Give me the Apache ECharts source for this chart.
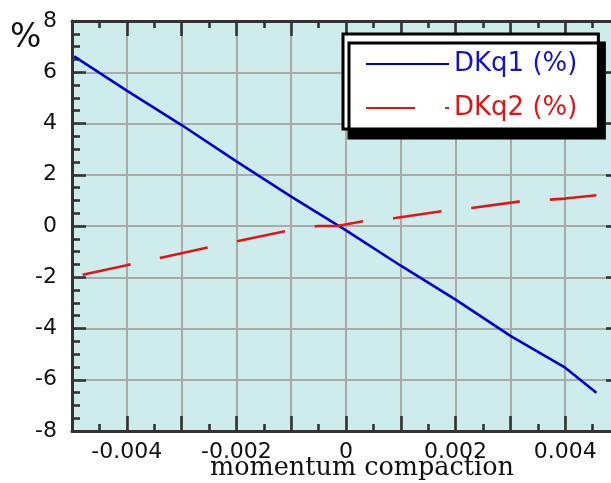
<!DOCTYPE html>
<html><head><meta charset="utf-8">
<script src="https://cdn.jsdelivr.net/npm/echarts@6/dist/echarts.min.js"></script>
<style>html,body{margin:0;padding:0;background:#fff}#c{width:611px;height:483px}</style>
</head><body><div id="c"></div>
<script>
// ---- data ----
const seriesNames = ['DKq1 (%)', 'DKq2 (%)'];
const momentumQ1 = [-0.00496, -0.004, -0.003, -0.002, -0.001, 0, 0.001, 0.002, 0.003, 0.004, 0.00457];
const dkq1 =       [6.62, 5.28, 3.94, 2.52, 1.15, -0.17, -1.55, -2.87, -4.29, -5.53, -6.51];
const momentumQ2 = [-0.00496, -0.004, -0.003, -0.002, -0.001, -0.0005, -0.00016, 0.0004, 0.0009, 0.00176, 0.00229, 0.00315, 0.004, 0.00457];
const dkq2 =       [-1.97, -1.53, -1.06, -0.6, -0.15, 0, 0, 0.22, 0.31, 0.58, 0.70, 0.95, 1.07, 1.2];
const xTickLabels = ['-0.004', '-0.002', '0', '0.002', '0.004'];
const yTickLabels = ['-8', '-6', '-4', '-2', '0', '2', '4', '6', '8'];
const xTitle = 'momentum compaction';
const yUnit = '%';

const BLUE = '#0000d2', RED = '#e41414';
const AX = '#333333';
const chart = echarts.init(document.getElementById('c'), null, {renderer: 'canvas'});

function pick(labels, v) {
  const r = Math.round(v * 1e4) / 1e4;
  for (const l of labels) { if (Number(l) === r) return l; }
  return '';
}
const tickCommon = {show: true, inside: true, lineStyle: {color: AX, width: 2.6}};
function xAx(pos, main) {
  return {
    type: 'value', position: pos, min: -0.005, max: 0.005, interval: 0.001,
    axisLine: {show: true, onZero: false, lineStyle: {color: AX, width: 3}},
    axisTick: Object.assign({}, tickCommon, {length: 15}),
    minorTick: {show: true, splitNumber: 2, length: 7, lineStyle: {color: AX, width: 2.6}},
    splitLine: {show: main, lineStyle: {color: '#aaaaaa', width: 2}},
    axisLabel: {show: main, margin: 10, color: '#111', fontFamily: 'DejaVu Sans', fontSize: 22,
      formatter: v => pick(xTickLabels, v)}
  };
}
function yAx(pos, main) {
  return {
    type: 'value', position: pos, min: -8, max: 8, interval: 2,
    axisLine: {show: true, onZero: false, lineStyle: {color: AX, width: 3}},
    axisTick: Object.assign({}, tickCommon, {length: 14}),
    minorTick: {show: true, splitNumber: 4, length: 8, lineStyle: {color: AX, width: 2.6}},
    splitLine: {show: main, lineStyle: {color: '#aaaaaa', width: 2}},
    axisLabel: {show: main, margin: 15, color: '#111', fontFamily: 'DejaVu Sans', fontSize: 22,
      padding: [0, 0, 6, 0], formatter: v => pick(yTickLabels, v)}
  };
}

chart.setOption({
  animation: false,
  backgroundColor: '#ffffff',
  grid: {left: 72, top: 21, width: 548, height: 410, show: true, backgroundColor: '#ceeceb',
    borderWidth: 0, outerBoundsMode: 'none', containLabel: false},
  xAxis: [xAx('bottom', true), xAx('top', false)],
  yAxis: [yAx('left', true), yAx('right', false)],
  legend: {
    orient: 'vertical', left: 343, top: 34, padding: [17, 21, 8, 22],
    backgroundColor: '#ffffff', borderColor: '#000', borderWidth: 3, borderRadius: 0,
    shadowColor: '#000', shadowOffsetX: 6, shadowOffsetY: 9, shadowBlur: 0,
    itemWidth: 83, itemHeight: 14, itemGap: 18, selectedMode: false,
    textStyle: {fontFamily: 'DejaVu Sans', fontSize: 26},
    lineStyle: {dashOffset: 0},
    itemStyle: {color: 'rgba(0,0,0,0)', borderColor: 'rgba(0,0,0,0)', borderWidth: 0, opacity: 0},
    data: [
      {name: seriesNames[0], textStyle: {color: '#1414cc'}},
      {name: seriesNames[1], textStyle: {color: '#e01414'}}
    ]
  },
  graphic: [
    {type: 'text', left: 10, top: 22,
      style: {text: yUnit, fontFamily: 'DejaVu Sans', fontSize: 33, fill: '#111'}},
    {type: 'text', x: 362, y: 468,
      style: {text: xTitle, fontFamily: 'DejaVu Serif', fontSize: 25.5, fill: '#111',
        align: 'center', verticalAlign: 'middle'}}
  ],
  series: [
    {name: seriesNames[0], type: 'line', xAxisIndex: 0, yAxisIndex: 0, symbol: 'none',
      lineStyle: {color: BLUE, width: 2.6}, itemStyle: {color: BLUE},
      data: momentumQ1.map((x, i) => [x, dkq1[i]])},
    {name: seriesNames[1], type: 'line', xAxisIndex: 0, yAxisIndex: 0, symbol: 'none',
      lineStyle: {color: RED, width: 2.6, type: [49, 30], dashOffset: 70.4}, itemStyle: {color: RED},
      data: momentumQ2.map((x, i) => [x, dkq2[i]])}
  ]
});
</script></body></html>
